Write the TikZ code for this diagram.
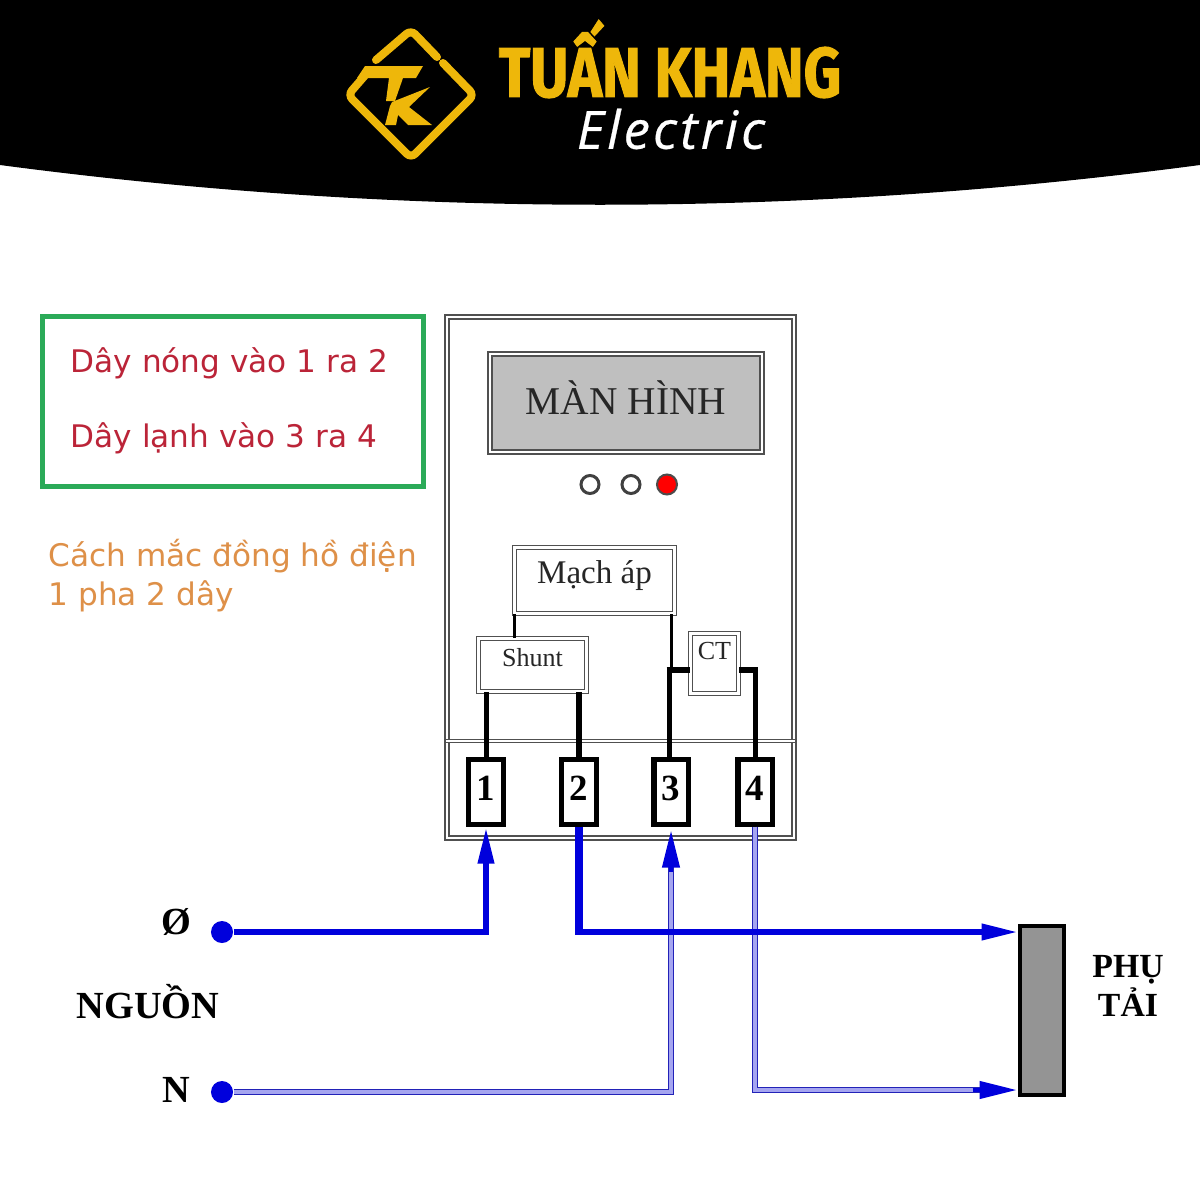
\documentclass[tikz,border=0pt]{standalone}
\usepackage{fontspec}
\setmainfont{Liberation Serif}
\newfontfamily\uisans{DejaVu Sans}
\newfontfamily\brandfont[BoldFeatures={FakeBold=1.6}]{Fira Sans}
\newfontfamily\elecfont[ItalicFeatures={LetterSpace=6,FakeBold=0.5}]{Open Sans}
\usetikzlibrary{arrows.meta,calc}
\definecolor{brandgold}{HTML}{EEB70A}
\definecolor{boxgreen}{HTML}{2BAA58}
\definecolor{noteRed}{HTML}{BB2438}
\definecolor{noteOrange}{HTML}{DE9048}
\definecolor{wireblue}{HTML}{0000DC}
\definecolor{dblblue}{HTML}{2222B8}
\definecolor{dblgrey}{HTML}{505050}
\tikzset{
  dblbox/.style={draw=dblgrey,line width=0.017cm,double=white,double distance=0.022cm,inner sep=0pt},
  terminal/.style={draw=black,line width=0.05cm,fill=white,minimum width=0.34cm,minimum height=0.64cm,inner sep=0pt,font=\bfseries\fontsize{10.5}{12}\selectfont},
  blackthin/.style={draw=black,line width=0.03cm},
  blackthick/.style={draw=black,line width=0.05cm},
  blackheavy/.style={draw=black,line width=0.065cm},
  thickwire/.style={draw=wireblue,line width=0.055cm},
  heavywire/.style={draw=wireblue,line width=0.08cm},
  dblwire/.style={draw=dblblue,line width=0.015cm,double={rgb,255:red,165;green,165;blue,240},double distance=0.036cm},
  tipthick/.style={draw=wireblue,line width=0.04cm,-{Triangle[length=0.35cm,width=0.16cm]}},
  tipdbl/.style={draw=wireblue,line width=0.04cm,-{Triangle[length=0.37cm,width=0.17cm]}},
  ledoff/.style={circle,draw=black!75,line width=0.03cm,fill=white,minimum size=0.18cm,inner sep=0pt},
  ledon/.style={circle,draw=black!70,line width=0.02cm,fill=red,minimum size=0.2cm,inner sep=0pt},
  srcdot/.style={circle,fill=wireblue,minimum size=0.22cm,inner sep=0pt},
  bold/.style={font=\bfseries\fontsize{10.9}{12}\selectfont,inner sep=0pt},
  note/.style={font=\uisans\fontsize{8.85}{10}\selectfont,anchor=west,inner sep=0pt},
  logoline/.style={draw=brandgold,line width=0.08cm,rounded corners=0.06cm,line cap=round}
}
\begin{document}
\begin{tikzpicture}[x=0.01cm,y=-0.01cm]
\useasboundingbox (0,0) rectangle (1200,1200);
\fill[white] (0,0) rectangle (1200,1200);
% header
\fill[black] (0,0) -- (1200,0) -- (1200,165) .. controls (800,218) and (400,218) .. (0,165) -- cycle;
% logo
\draw[logoline] (376,60) -- (411,30) -- (437,57);
\draw[logoline] (443,63) -- (474,95) -- (411,158) -- (348,95) -- (368,72);
\fill[brandgold] (365,66) -- (423,66) -- (416,78) -- (403,78) -- (395,101) -- (386,101) -- (389,78) -- (357,78) -- cycle;
\fill[brandgold] (392,102) -- (430,87) -- (409,107) -- (432,125) -- (408,125) -- (398,115) -- (396,125) -- (385,125) -- (390,106) -- cycle;
\node[inner sep=0pt,text=brandgold,font=\brandfont\bfseries\fontsize{20}{22}\selectfont,xscale=0.83] (brand) at (670,59) {TUẤN KHANG};
\node[inner sep=0pt,text=white,font=\elecfont\itshape\fontsize{15}{17}\selectfont] (elec) at (671,129) {Electric};
% note box
\node[draw=boxgreen,line width=0.05cm,minimum width=3.8cm,minimum height=1.69cm,inner sep=0pt] (notebox) at (233,401.5) {};
\node[note,text=noteRed] (n1) at (70,363.5) {Dây nóng vào 1 ra 2};
\node[note,text=noteRed] (n2) at (70,438.5) {Dây lạnh vào 3 ra 4};
\node[note,text=noteOrange] (n3) at (48,556) {Cách mắc đồng hồ điện};
\node[note,text=noteOrange] (n4) at (48,596.5) {1 pha 2 dây};
% meter
\node[dblbox,minimum width=3.47cm,minimum height=5.21cm] (meter) at (620.5,577.5) {};
\draw[draw=dblgrey,line width=0.017cm,double=white,double distance=0.014cm] (meter.west |- 0,741) coordinate (barL) -- (meter.east |- 0,741) coordinate (barR);
\node[dblbox,fill=black!25,minimum width=2.72cm,minimum height=0.98cm,font=\fontsize{11.2}{13}\selectfont,text=black!85] (screen) at (626,403) {\raisebox{0.1cm}{MÀN HÌNH}};
\node[ledoff] (led1) at (590,484.5) {};
\node[ledoff] (led2) at (631,484.5) {};
\node[ledon] (led3) at (667,484.5) {};
\node[dblbox,minimum width=1.6cm,minimum height=0.66cm,font=\fontsize{9.4}{11}\selectfont,text=black!85] (mach) at (594.5,580.5) {\raisebox{0.17cm}{Mạch áp}};
\node[dblbox,minimum width=1.08cm,minimum height=0.53cm,font=\fontsize{7.4}{9}\selectfont,text=black!85] (shunt) at (532.5,665) {\raisebox{0.16cm}{Shunt}};
\node[dblbox,minimum width=0.48cm,minimum height=0.6cm,font=\fontsize{7.4}{9}\selectfont,text=black!85] (ct) at (714.5,663.5) {\raisebox{0.26cm}{CT}};
\node[terminal] (t1) at (486,792) {\raisebox{0.08cm}{1}};
\node[terminal] (t2) at (579,792) {\raisebox{0.08cm}{2}};
\node[terminal] (t3) at (671,792) {\raisebox{0.08cm}{3}};
\node[terminal] (t4) at (755,792) {\raisebox{0.08cm}{4}};
% inner wiring
\coordinate (mL) at ($(mach.south west)+(1,0)$);
\coordinate (mR) at ($(mach.south east)+(-4,0)$);
\coordinate (ctL) at ($(ct.west)+(0,6.5)$);
\coordinate (ctR) at ($(ct.east)+(0,6.5)$);
\draw[blackthin] (mL) -- (mL |- shunt.north);
\draw[blackthin] (mR) -- (mR |- ctL);
\draw[blackthick] (t1.north) -- (t1.north |- shunt.south);
\draw[blackheavy] (t2.north) -- (t2.north |- shunt.south);
\draw[blackthick] ($(t3.north)+(-2,0)$) -- ($(t3.north |- ctL)+(-2,-3)$);
\draw[blackheavy] ($(t3.north |- ctL)+(-4.5,0)$) -- (ctL);
\draw[blackthick] (t4.north) -- ($(t4.north |- ctR)+(0,-3)$);
\draw[blackheavy] ($(t4.north |- ctR)+(2.5,0)$) -- (ctR);
% load and source
\node[draw=black,line width=0.045cm,fill=black!42,minimum width=0.44cm,minimum height=1.69cm,inner sep=0pt] (load) at (1042,1010.5) {};
\node[srcdot] (srcL) at (222,932) {};
\node[srcdot] (srcN) at (222,1092) {};
\coordinate (loadA) at (load.west |- 0,932);
\coordinate (loadB) at (load.west |- 0,1090);
% wires
\draw[dblwire] (srcN) -- (srcN -| t3.south) -- ($(t3.south)+(0,30)$) ;
\draw[dblwire] (t4.south) |- ($(loadB)+(-25,0)$);
\draw[thickwire] (srcL) -| ($(t1.south)+(0,25)$);
\draw[thickwire] (t2.south |- loadA) -- ($(loadA)+(-25,0)$);
\draw[heavywire] (t2.south) -- ($(t2.south |- loadA)+(0,3)$);
\draw[tipthick] ($(t1.south)+(0,38)$) -- ($(t1.south)+(0,2)$);
\draw[tipthick] ($(loadA)+(-40,0)$) -- ($(loadA)+(-1,0)$);
\draw[tipdbl] ($(t3.south)+(0,45)$) -- ($(t3.south)+(0,4)$);
\draw[tipdbl] ($(loadB)+(-45,0)$) -- ($(loadB)+(-1,0)$);
% labels
\node[bold] (lo) at (176,922) {Ø};
\node[bold] (ln) at (148,1002) {NGUỒN};
\node[bold] (lnn) at (176,1090) {N};
\node[bold,align=center,font=\bfseries\fontsize{9.6}{10.9}\selectfont] (lp) at (1128,986) {PHỤ\\TẢI};
\end{tikzpicture}
\end{document}
